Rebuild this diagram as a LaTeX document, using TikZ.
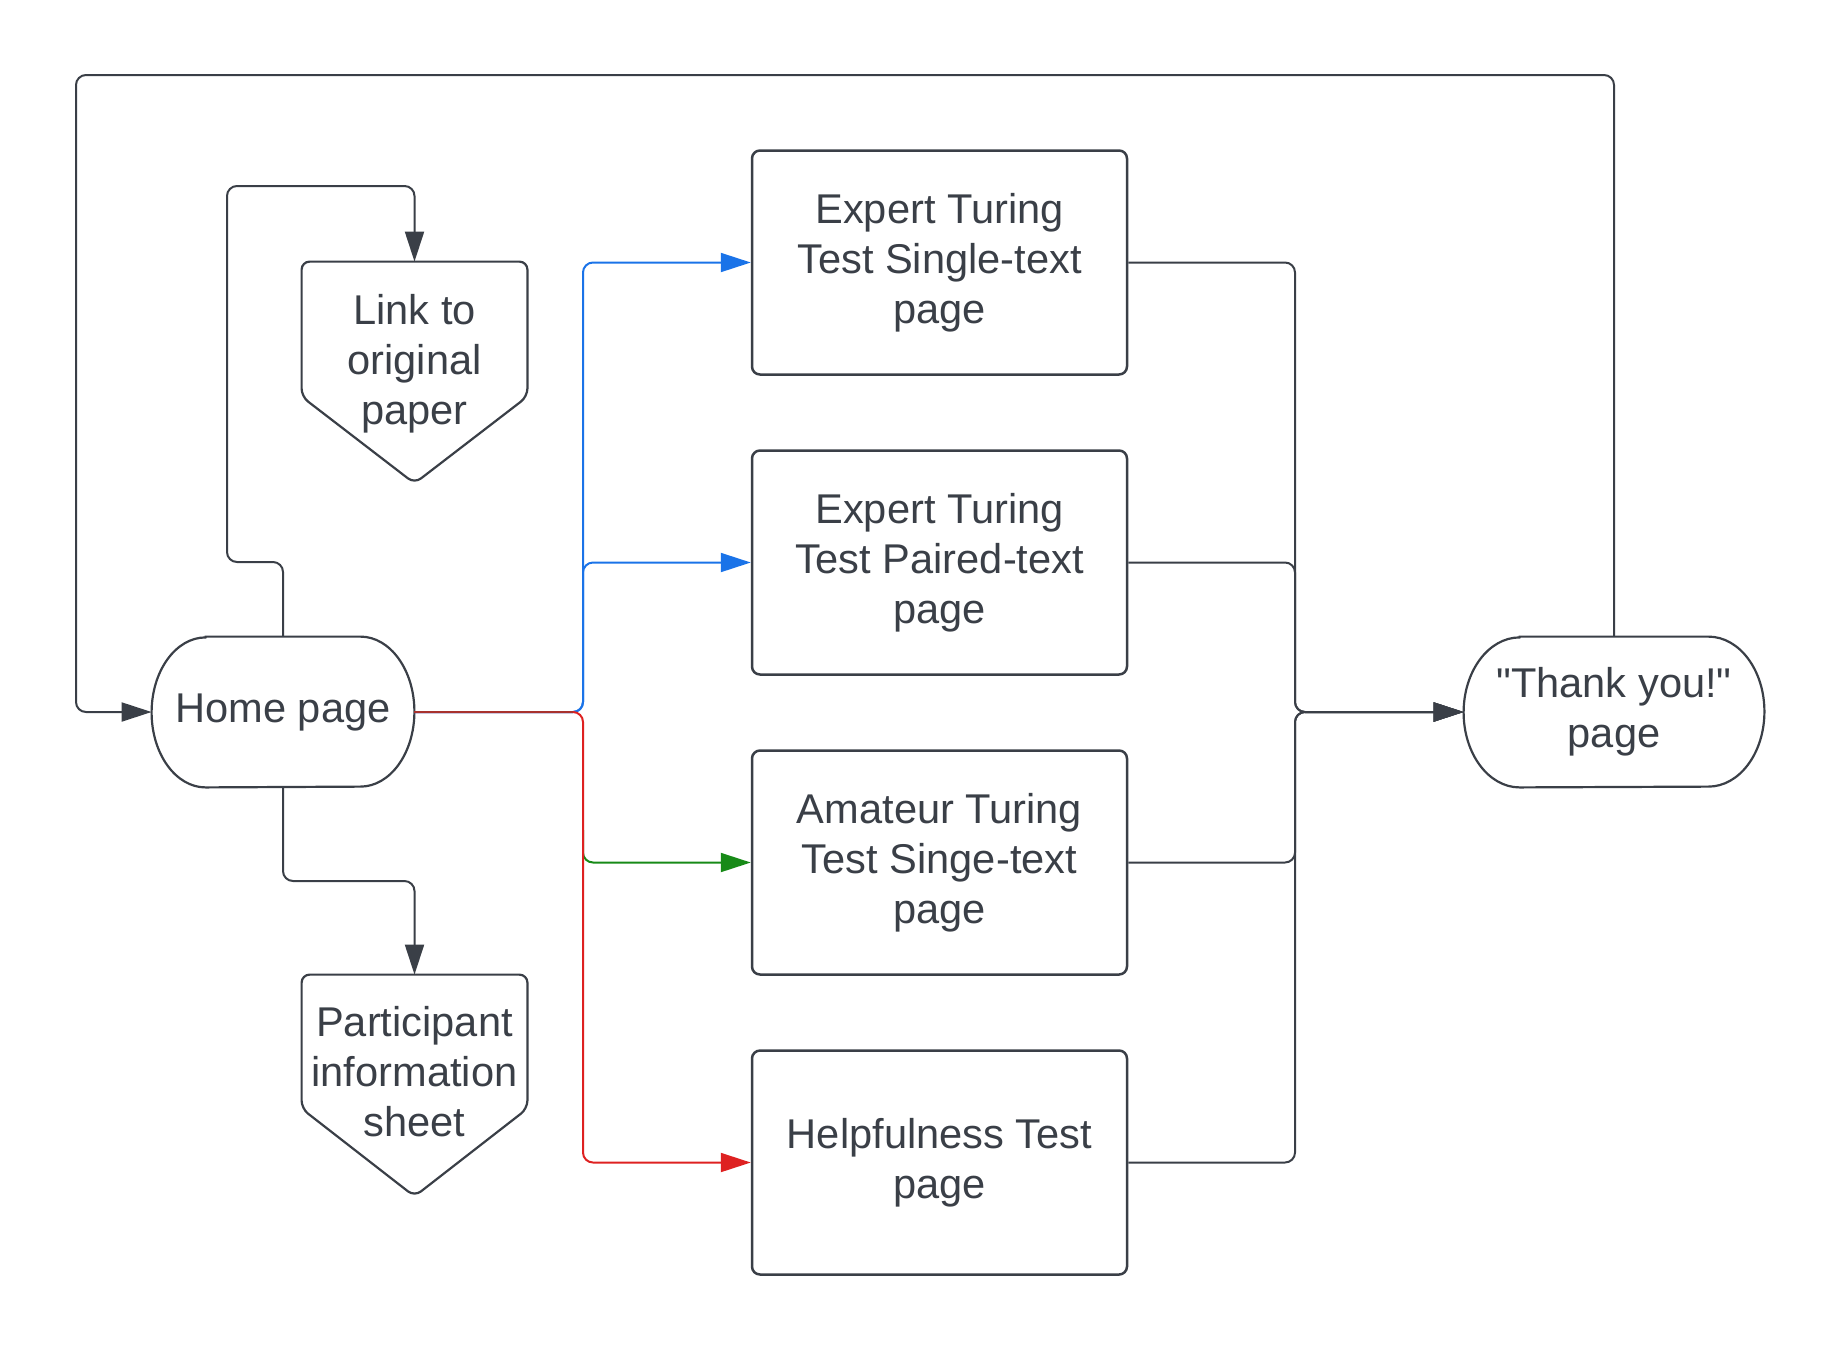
\documentclass[tikz,border=0pt]{standalone}
\usepackage{fontspec}
\setmainfont{Liberation Sans}[Ligatures=TeXOff]
\usetikzlibrary{arrows.meta,calc}
\definecolor{ink}{HTML}{3A3F47}
\definecolor{lblue}{HTML}{1A73E8}
\definecolor{lgreen}{HTML}{178A17}
\definecolor{lred}{HTML}{DE2121}
\definecolor{dred}{HTML}{A8322E}
\tikzset{
  txt/.style={font=\fontsize{20.8pt}{25pt}\selectfont, text=ink, align=center, inner sep=0pt},
  holder/.style={draw=none, inner sep=0pt, txt},
  pagebox/.style={draw=ink, line width=1.25pt, rounded corners=4pt, minimum width=187.5pt, minimum height=112pt, txt},
  shapeline/.style={draw=ink, line width=1.1pt},
  conn/.style={draw=ink, line width=1pt, rounded corners=5pt},
  tip/.style={-{Triangle[length=15pt,width=9.5pt]}},
}
\begin{document}
\begin{tikzpicture}[x=0.5pt,y=-0.5pt]
\useasboundingbox (0,0) rectangle (1839,1350);
% terminators
\node[holder, minimum width=131pt, minimum height=75pt] (home) at (283,712) {Home page};
\draw[shapeline] ([xshift=27pt]home.north west) -- ([xshift=-27pt]home.north east)
  arc[start angle=90,end angle=-90,x radius=27pt,y radius=37.5pt]
  -- ([xshift=27pt]home.south west)
  arc[start angle=270,end angle=90,x radius=27pt,y radius=37.5pt] -- cycle;
\node[holder, minimum width=150pt, minimum height=75pt] (thanks) at (1614,712) {"Thank you!"\\page};
\draw[shapeline] ([xshift=28pt]thanks.north west) -- ([xshift=-28pt]thanks.north east)
  arc[start angle=90,end angle=-90,x radius=28pt,y radius=37.5pt]
  -- ([xshift=28pt]thanks.south west)
  arc[start angle=270,end angle=90,x radius=28pt,y radius=37.5pt] -- cycle;
% off-page connectors
\node[holder, minimum width=112.5pt, minimum height=110.5pt] (link) at (414.5,372.5) {};
\draw[shapeline, rounded corners=4pt] (link.north west) -- (link.north east) -- ([yshift=-67.5pt]link.north east) -- (link.south) -- ([yshift=-67.5pt]link.north west) -- cycle;
\node[txt] (linkt) at (414.5,363.5) {Link to\\original\\paper};
\node[holder, minimum width=112.5pt, minimum height=110.5pt] (part) at (414.5,1085.5) {};
\draw[shapeline, rounded corners=4pt] (part.north west) -- (part.north east) -- ([yshift=-67pt]part.north east) -- (part.south) -- ([yshift=-67pt]part.north west) -- cycle;
\node[txt] (partt) at (414.5,1072) {Participant\\information\\sheet};
% page boxes
\node[pagebox] (box1) at (939.5,262.5) {Expert Turing\\Test Single-text\\page};
\node[pagebox] (box2) at (939.5,562.5) {Expert Turing\\Test Paired-text\\page};
\node[pagebox] (box3) at (939.5,862.5) {Amateur Turing\\Test Singe-text\\page};
\node[pagebox] (box4) at (939.5,1162.5) {Helpfulness Test\\page};
% coordinates
\coordinate (J) at (583,712);
\coordinate (G) at (583,830);
\coordinate (K) at (1295,712);
\coordinate (TL) at (76,75);
\coordinate (la) at (227,562);
\coordinate (lb) at (414.5,186);
\coordinate (pa) at (283,881);
% loops
\draw[conn, tip] (thanks.north) |- (TL) |- (home.west);
\draw[conn, tip] (home.north) |- (la) |- (lb) -- (link.north);
\draw[conn, tip] (home.south) -- (pa) -| (part.north);
% coloured branches
\draw[conn, draw=lblue, -{Triangle[length=15pt,width=9.5pt,fill=lblue]}] (home.east) -- (J) |- (box1.west);
\draw[conn, draw=lblue, -{Triangle[length=15pt,width=9.5pt,fill=lblue]}] (home.east) -- (J) |- (box2.west);
\draw[conn, draw=lgreen, -{Triangle[length=15pt,width=9.5pt,fill=lgreen]}] (G) |- (box3.west);
\draw[conn, draw=lred, -{Triangle[length=15pt,width=9.5pt,fill=lred]}] (home.east) -- (J) |- (box4.west);
\draw[draw=dred, line width=1pt] (home.east) -- ([xshift=-5pt]J);
% merge to thank-you page
\draw[conn, tip] (box1.east) -| (K) -- (thanks.west);
\draw[conn, tip] (box2.east) -| (K) -- (thanks.west);
\draw[conn, tip] (box3.east) -| (K) -- (thanks.west);
\draw[conn, tip] (box4.east) -| (K) -- (thanks.west);
\end{tikzpicture}
\end{document}
